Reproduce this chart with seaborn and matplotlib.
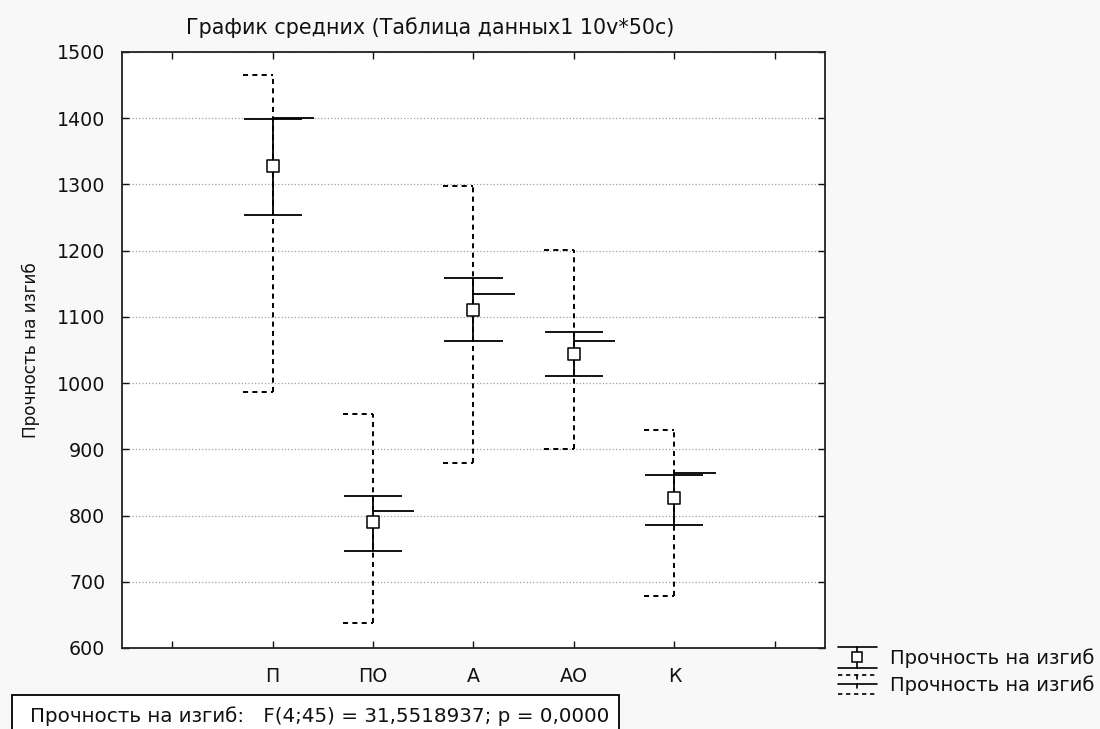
import numpy as np
import pandas as pd
import matplotlib
matplotlib.use('Agg')
import matplotlib.pyplot as plt
import seaborn as sns
from matplotlib.lines import Line2D
from matplotlib.patches import Rectangle

# values (Statistica means plot)
groups = ['П', 'ПО', 'А', 'АО', 'К']
means = [1328, 790, 1110, 1044, 826]
se_low = [1254, 747, 1063, 1011, 786]
se_high = [1399, 830, 1158, 1077, 861]
medians = [1400, 807, 1135, 1063, 865]
mins = [986, 637, 879, 900, 679]
maxs = [1465, 954, 1298, 1201, 929]

var_name = 'Прочность на изгиб'
title = 'График средних (Таблица данных1 10v*50c)'
stats_text = 'Прочность на изгиб:   F(4;45) = 31,5518937; p = 0,0000'

sns.set_style('ticks')
plt.rcParams['font.family'] = ['DejaVu Sans']
plt.rcParams['text.color'] = '#111111'
plt.rcParams['axes.labelcolor'] = '#111111'

W, H = 1100, 729
fig = plt.figure(figsize=(W / 100, H / 100), dpi=100, facecolor='#f8f8f8')
ax = fig.add_axes([122 / W, 1 - 648 / H, (825 - 122) / W, (648 - 52) / H])
ax.set_facecolor('white')

df = pd.DataFrame({'pos': np.arange(1, len(groups) + 1), 'mean': means,
                   'se_low': se_low, 'se_high': se_high, 'median': medians,
                   'min': mins, 'max': maxs})

dash = (0, (2.6, 2.2))
# min-max brackets (dashed), cap only to the left
ax.vlines(df['pos'], df['min'], df['max'], colors='black', linestyles=[dash], lw=1.4, zorder=2)
ax.hlines(df['min'], df['pos'] - 0.3, df['pos'], colors='black', linestyles=[dash], lw=1.4, zorder=2)
ax.hlines(df['max'], df['pos'] - 0.3, df['pos'], colors='black', linestyles=[dash], lw=1.4, zorder=2)

# mean +- error whiskers (solid)
ax.vlines(df['pos'], df['se_low'], df['se_high'], colors='black', lw=1.3, zorder=3)
ax.hlines(df['se_low'], df['pos'] - 0.29, df['pos'] + 0.29, colors='black', lw=1.3, zorder=3)
ax.hlines(df['se_high'], df['pos'] - 0.29, df['pos'] + 0.29, colors='black', lw=1.3, zorder=3)
# median tick to the right
ax.hlines(df['median'], df['pos'], df['pos'] + 0.41, colors='black', lw=1.3, zorder=3)

sns.scatterplot(data=df, x='pos', y='mean', ax=ax, marker='s', s=70,
                facecolor='white', edgecolor='black', linewidth=1.1, zorder=4, legend=False)

ax.set_xlim(-0.5, 6.5)
ax.set_ylim(600, 1500)
ax.set_xticks(np.arange(0, 7))
ax.set_xticklabels([''] + groups + [''])
ax.set_yticks(np.arange(600, 1501, 100))
ax.set_xlabel('')
ax.set_ylabel(var_name, fontsize=12.2, labelpad=12)
ax.tick_params(direction='in', length=5, width=1, top=True, right=True,
               labelsize=13.7, pad=12, colors='#111111')
ax.tick_params(axis='x', pad=14)
ax.grid(axis='y', linestyle=':', color='#a0a0a0', lw=0.9, zorder=0)
for sp in ax.spines.values():
    sp.set_visible(True)
    sp.set_linewidth(1.3)
    sp.set_color('#222222')

fig.text(430 / W, 1 - 28 / H, title, ha='center', va='center', fontsize=14.9)


def px(x, y):
    return x / W, 1 - y / H


def fig_line(xs, ys, **kw):
    fx = [x / W for x in xs]
    fy = [1 - y / H for y in ys]
    fig.add_artist(Line2D(fx, fy, transform=fig.transFigure, color='black', **kw))


# legend symbols drawn by hand (Statistica style)
fig_line([838, 877], [647, 647], lw=1.2)
fig_line([838, 877], [668, 668], lw=1.2)
fig_line([857, 857], [647, 668], lw=1.2)
fig.add_artist(Line2D([857 / W], [1 - 656.5 / H], transform=fig.transFigure, marker='s',
                      markersize=6.5, markerfacecolor='white', markeredgecolor='black', mew=1.1))
fig_line([838, 877], [674.5, 674.5], lw=1.2, linestyle=dash)
fig_line([857, 857], [674.5, 679], lw=1.2)
fig_line([838, 877], [683.5, 683.5], lw=1.2)
fig_line([857, 857], [683.5, 688], lw=1.2)
fig_line([838, 877], [694, 694], lw=1.2, linestyle=dash)
fig.text(*px(890, 658.5), var_name, ha='left', va='center', fontsize=14.1)
fig.text(*px(890, 685), var_name, ha='left', va='center', fontsize=14.1)

# stats box at bottom
fig.add_artist(Rectangle(px(12, 740), (619 - 12) / W, (740 - 695) / H, transform=fig.transFigure,
                         facecolor='white', edgecolor='black', lw=1.3))
fig.text(*px(30, 716), stats_text, ha='left', va='center', fontsize=14.3)

fig.savefig('out.png', dpi=100, facecolor=fig.get_facecolor())
